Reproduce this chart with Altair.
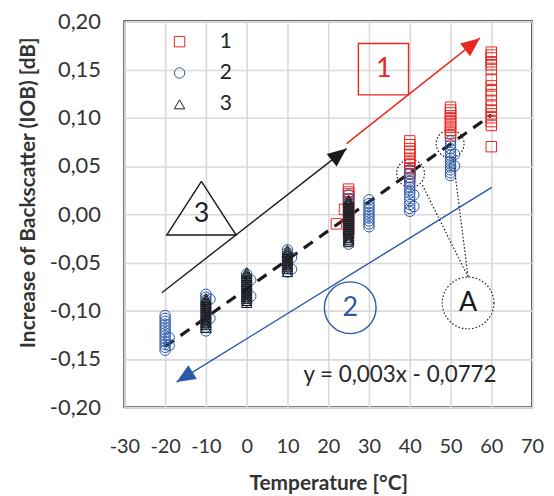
import math
import altair as alt
import pandas as pd

# ---------------- data ----------------
s1_x = [22, 24] + [25]*15 + [40]*12 + [50]*11 + [60]*18
s1_y = [-0.010, 0.005,
        0.026, 0.023, 0.021, 0.019, 0.016, 0.013, 0.010, 0.006, 0.002, -0.002, -0.005, -0.008, -0.012, -0.016, -0.020,
        0.076, 0.072, 0.068, 0.065, 0.062, 0.058, 0.055, 0.052, 0.048, 0.045, 0.042, 0.038,
        0.111, 0.108, 0.105, 0.102, 0.099, 0.096, 0.093, 0.090, 0.087, 0.084, 0.081,
        0.168, 0.165, 0.162, 0.158, 0.155, 0.150, 0.140, 0.133, 0.128, 0.124, 0.118, 0.112, 0.108, 0.104, 0.100, 0.096, 0.092, 0.070]

s2_x = ([-20]*13 + [-19]*2 + [-10]*11 + [-9]*2 + [0]*8 + [1]*2 + [10]*7 + [11]*2 +
        [25]*14 + [30]*10 + [40]*13 + [41]*2 + [50]*12 + [51]*2)
s2_y = [-0.105, -0.108, -0.111, -0.114, -0.117, -0.120, -0.123, -0.126, -0.129, -0.132, -0.135, -0.138, -0.141,
        -0.128, -0.136,
        -0.083, -0.086, -0.089, -0.093, -0.097, -0.101, -0.105, -0.109, -0.113, -0.117, -0.121,
        -0.088, -0.108,
        -0.062, -0.066, -0.070, -0.074, -0.078, -0.082, -0.086, -0.090,
        -0.068, -0.085,
        -0.037, -0.040, -0.044, -0.048, -0.052, -0.056, -0.060,
        -0.045, -0.057,
        0.020, 0.016, 0.012, 0.008, 0.004, 0.000, -0.004, -0.008, -0.012, -0.016, -0.020, -0.024, -0.028, -0.031,
        0.015, 0.011, 0.008, 0.005, 0.002, -0.001, -0.004, -0.007, -0.010, -0.013,
        0.046, 0.042, 0.038, 0.034, 0.031, 0.028, 0.025, 0.022, 0.018, 0.014, 0.010, 0.006, 0.003,
        0.020, 0.008,
        0.076, 0.072, 0.068, 0.064, 0.061, 0.058, 0.055, 0.052, 0.049, 0.046, 0.043, 0.040,
        0.062, 0.050]

s3_x = [-10]*16 + [0]*17 + [10]*12 + [25]*23
s3_y = [-0.087, -0.089, -0.091, -0.093, -0.095, -0.097, -0.099, -0.101, -0.103, -0.105, -0.107, -0.109, -0.111, -0.113, -0.115, -0.118,
        -0.060, -0.062, -0.064, -0.066, -0.068, -0.070, -0.072, -0.074, -0.076, -0.078, -0.080, -0.082, -0.084, -0.086, -0.088, -0.090, -0.092,
        -0.037, -0.039, -0.041, -0.043, -0.045, -0.047, -0.049, -0.051, -0.053, -0.055, -0.057, -0.060,
        0.015, 0.013, 0.011, 0.009, 0.007, 0.005, 0.003, 0.001, -0.001, -0.003, -0.005, -0.007, -0.009, -0.011, -0.013, -0.015, -0.017, -0.019, -0.021, -0.023, -0.025, -0.027, -0.029]

series_names = ["1", "2", "3"]
series_colors = ["#e8271f", "#2b58a8", "#1a1a1a"]
series_shapes = ["square", "circle", "triangle-up"]

x_ticks = [-30, -20, -10, 0, 10, 20, 30, 40, 50, 60, 70]
y_ticks = [-0.20, -0.15, -0.10, -0.05, 0.00, 0.05, 0.10, 0.15, 0.20]

trend_x = [-20, 60]
trend_y = [-0.1372, 0.1028]
equation = "y = 0,003x - 0,0772"

# annotations (data units)
arrow_colors = ["#1a1a1a", "#e8271f", "#2b58a8"]
arrow_x0 = [-20.8, 24.5, 60.1]
arrow_y0 = [-0.0814, 0.0732, 0.0278]
arrow_x1 = [24.5, 57.2, -17.2]
arrow_y1 = [0.068, 0.1825, -0.174]

box1 = dict(x=27.4, x2=39.7, y=0.177, y2=0.1237)
tri3_x = [-11.1, -19.6, -2.6, -11.1]
tri3_y = [0.034, -0.0216, -0.0216, 0.034]
circ2 = dict(x=25.4, y=-0.097)
circA = dict(x=54.3, y=-0.092)
small_circ_x = [40.2, 49.9]
small_circ_y = [0.0423, 0.073]
lead_x0 = [43.1, 50.6]
lead_y0 = [0.030, 0.059]
lead_x1 = [54.3, 54.3]
lead_y1 = [-0.065, -0.065]

label_text = ["1", "3", "2", "A"]
label_x = [33.6, -11.1, 25.4, 54.3]
label_y = [0.150, 0.000, -0.097, -0.092]
label_color = ["#e8271f", "#1a1a1a", "#2b58a8", "#1a1a1a"]
eq_pos = dict(x=37.6, y=-0.167)

# ---------------- chart ----------------
W, H = 410, 388
XD = [-30, 70]
YD = [-0.2, 0.2]
FONT = "Lato"

xs = alt.Scale(domain=XD, nice=False, zero=False)
ys = alt.Scale(domain=YD, nice=False, zero=False)

x_axis = alt.Axis(values=x_ticks, title="Temperature [°C]", labelOverlap=False, labelFlush=False,
                  labelExpr="(datum.value < 0 ? '-' : '') + format(abs(datum.value), 'd')")
y_axis = alt.Axis(values=y_ticks, title="Increase of Backscatter (IOB) [dB]", labelOverlap=False,
                  labelFlush=False,
                  labelExpr="(datum.value < 0 ? '-' : '') + replace(format(abs(datum.value), '.2f'), '.', ',')")


def X(f="T"):
    return alt.X(f"{f}:Q", scale=xs, axis=x_axis)


def Y(f="v"):
    return alt.Y(f"{f}:Q", scale=ys, axis=y_axis)


rows = []
for name, xx, yy in zip(series_names, [s1_x, s2_x, s3_x], [s1_y, s2_y, s3_y]):
    for a, b in zip(xx, yy):
        rows.append({"T": a, "v": b, "series": name})
pts_df = pd.DataFrame(rows)

points = alt.Chart(pts_df).mark_point(filled=False, strokeWidth=1, size=110, opacity=1).encode(
    x=X(), y=Y(),
    color=alt.Color("series:N", scale=alt.Scale(domain=series_names, range=series_colors),
                    legend=alt.Legend(title=None, orient="none", legendX=45, legendY=10,
                                      labelFontSize=21, labelFont=FONT, labelColor="#222",
                                      symbolSize=110, symbolStrokeWidth=1, labelOffset=30,
                                      rowPadding=9.5, padding=0)),
    shape=alt.Shape("series:N", scale=alt.Scale(domain=series_names, range=series_shapes)),
)

trend = alt.Chart(pd.DataFrame({"T": trend_x, "v": trend_y})).mark_line(
    color="#1a1a1a", strokeWidth=3.2, strokeDash=[11, 8]).encode(x=X(), y=Y())

# arrows
px_per_x = W / (XD[1] - XD[0])
px_per_y = H / (YD[1] - YD[0])
head_path = "M0,0L0.85,2L-0.85,2Z"
arrow_layers = []
for col, a0, b0, a1, b1 in zip(arrow_colors, arrow_x0, arrow_y0, arrow_x1, arrow_y1):
    dx = (a1 - a0) * px_per_x
    dy = -(b1 - b0) * px_per_y
    ang = math.degrees(math.atan2(dx, -dy)) % 360
    d = pd.DataFrame({"T": [a0], "v": [b0], "T2": [a1], "v2": [b1]})
    arrow_layers.append(alt.Chart(d).mark_rule(strokeWidth=1.4, color=col).encode(
        x=X(), y=Y(), x2="T2:Q", y2="v2:Q"))
    arrow_layers.append(alt.Chart(d).mark_point(shape=head_path, filled=True, size=360, opacity=1,
                                                strokeWidth=0, fill=col, angle=ang).encode(
        x=X("T2"), y=Y("v2")))

box = alt.Chart(pd.DataFrame({"T": [box1["x"]], "v": [box1["y"]], "T2": [box1["x2"]], "v2": [box1["y2"]]})).mark_rect(
    filled=False, stroke="#e8271f", strokeWidth=1.4).encode(x=X(), y=Y(), x2="T2:Q", y2="v2:Q")

tri = alt.Chart(pd.DataFrame({"T": tri3_x, "v": tri3_y, "o": list(range(len(tri3_x)))})).mark_line(
    color="#1a1a1a", strokeWidth=1.4, strokeJoin="miter").encode(x=X(), y=Y(), order="o:Q")

big_circ = alt.Chart(pd.DataFrame({"T": [circ2["x"]], "v": [circ2["y"]]})).mark_point(
    shape="circle", size=2704, filled=False, stroke="#2b58a8", strokeWidth=1.4, opacity=1).encode(x=X(), y=Y())
a_circ = alt.Chart(pd.DataFrame({"T": [circA["x"]], "v": [circA["y"]]})).mark_point(
    shape="circle", size=2704, filled=False, stroke="#1a1a1a", strokeWidth=1.2, strokeDash=[1.5, 2],
    opacity=1).encode(x=X(), y=Y())
small_circ = alt.Chart(pd.DataFrame({"T": small_circ_x, "v": small_circ_y})).mark_point(
    shape="circle", size=784, filled=False, stroke="#1a1a1a", strokeWidth=1.2, strokeDash=[1.5, 2],
    opacity=1).encode(x=X(), y=Y())
leads = alt.Chart(pd.DataFrame({"T": lead_x0, "v": lead_y0, "T2": lead_x1, "v2": lead_y1})).mark_rule(
    color="#1a1a1a", strokeWidth=1.2, strokeDash=[1.5, 2]).encode(x=X(), y=Y(), x2="T2:Q", y2="v2:Q")

text_layers = []
for t, a, b, col in zip(label_text, label_x, label_y, label_color):
    text_layers.append(alt.Chart(pd.DataFrame({"T": [a], "v": [b], "txt": [t]})).mark_text(
        font=FONT, fontSize=27, baseline="middle", align="center", color=col).encode(
        x=X(), y=Y(), text="txt:N"))

eq = alt.Chart(pd.DataFrame({"T": [eq_pos["x"]], "v": [eq_pos["y"]], "txt": [equation]})).mark_text(
    font=FONT, fontSize=22.5, baseline="middle", align="center", color="#262626").encode(
    x=X(), y=Y(), text="txt:N")

chart = alt.layer(trend, *arrow_layers, box, tri, big_circ, a_circ, small_circ, leads,
                  points, *text_layers, eq).properties(
    width=W, height=H,
    autosize=alt.AutoSizeParams(type="none"),
    padding={"left": 117, "top": 12, "right": 14, "bottom": 88},
).configure_view(stroke="#333333", strokeWidth=2).configure_axis(
    grid=True, gridColor="#d9d9d9", gridWidth=1.6, domain=False, ticks=False,
    labelFont=FONT, labelFontSize=22, labelColor="#333333",
    titleFont=FONT, titleFontSize=21, titleFontWeight="bold", titleColor="#333333",
).configure_axisY(labelPadding=24, titleX=-96, titleY=172, titleBaseline="middle"
).configure_axisX(labelPadding=30, labelFontSize=20, titleY=77, titleBaseline="middle")

chart.save("out.html", embed_options={"renderer": "svg", "actions": False})
